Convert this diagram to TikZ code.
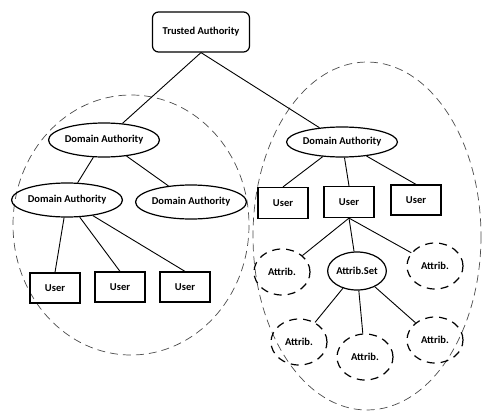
\documentclass[tikz,border=0pt]{standalone}
\usepackage{fontspec}
\setmainfont{Carlito}
\usetikzlibrary{shapes.geometric}
\begin{document}
\begin{tikzpicture}[x=1pt,y=-1pt,
  lbl/.style={font=\bfseries\fontsize{10.5}{12}\selectfont},
  ubox/.style={lbl,draw,line width=1.2pt,minimum width=50pt,minimum height=30pt,inner sep=0pt},
  daell/.style={lbl,ellipse,draw,line width=1.2pt,minimum width=105pt,minimum height=34pt,inner sep=0pt},
  attr/.style={lbl,ellipse,draw,line width=1.2pt,dash pattern=on 8pt off 6pt,minimum width=56pt,minimum height=46pt,inner sep=0pt},
  aset/.style={lbl,ellipse,draw,line width=1.2pt,minimum width=50pt,minimum height=38pt,inner sep=0pt},
  region/.style={draw=black!70,line width=0.7pt,dash pattern=on 8pt off 5pt},
  conn/.style={line width=0.9pt}]
\useasboundingbox (0,0) rectangle (485,415);
% regions
\draw[region] (131,225) ellipse [x radius=118, y radius=130];
\draw[region] (367,236) ellipse [x radius=114, y radius=174];
% nodes
\node[lbl,draw,line width=1.2pt,rounded corners=6pt,minimum width=97pt,minimum height=40pt,inner sep=0pt] (ta) at (201,32) {Trusted Authority};
\node[daell] (lda) at (104,140) {Domain Authority};
\node[daell] (llda) at (67,200) {Domain Authority};
\node[daell,minimum width=107pt] (mda) at (191,202) {Domain Authority};
\node[ubox] (lu1) at (55,288) {User};
\node[ubox] (lu2) at (120,287) {User};
\node[ubox] (lu3) at (185,287) {User};
\node[daell,minimum width=106pt,minimum height=30pt] (rda) at (342,142) {Domain Authority};
\node[ubox,minimum height=31pt] (ru1) at (283,203) {User};
\node[ubox,minimum height=31pt] (ru2) at (349,202) {User};
\node[ubox] (ru3) at (416,200) {User};
\node[attr] (atl) at (282,272) {Attrib.};
\node[aset] (as) at (357,271) {Attrib.Set};
\node[attr] (atr) at (435,266) {Attrib.};
\node[attr] (ab1) at (299,342) {Attrib.};
\node[attr] (ab2) at (365,357) {Attrib.};
\node[attr] (ab3) at (435,340) {Attrib.};
% connectors
\draw[conn] (ta.south) -- (lda);
\draw[conn] (ta.south) -- (rda);
\draw[conn] (lda) -- (llda);
\draw[conn] (lda) -- (mda);
\draw[conn] (llda) -- (lu1.north);
\draw[conn] (llda) -- (lu2.north);
\draw[conn] (llda) -- (lu3.north);
\draw[conn] (rda) -- (ru1.north);
\draw[conn] (rda) -- (ru2.north);
\draw[conn] (rda) -- (ru3.north);
\draw[conn] (ru2.south) -- (atl);
\draw[conn] (ru2.south) -- (as);
\draw[conn] (ru2.south) -- (atr);
\draw[conn] (as) -- (ab1);
\draw[conn] (as) -- (ab2);
\draw[conn] (as) -- (ab3);
\end{tikzpicture}
\end{document}
